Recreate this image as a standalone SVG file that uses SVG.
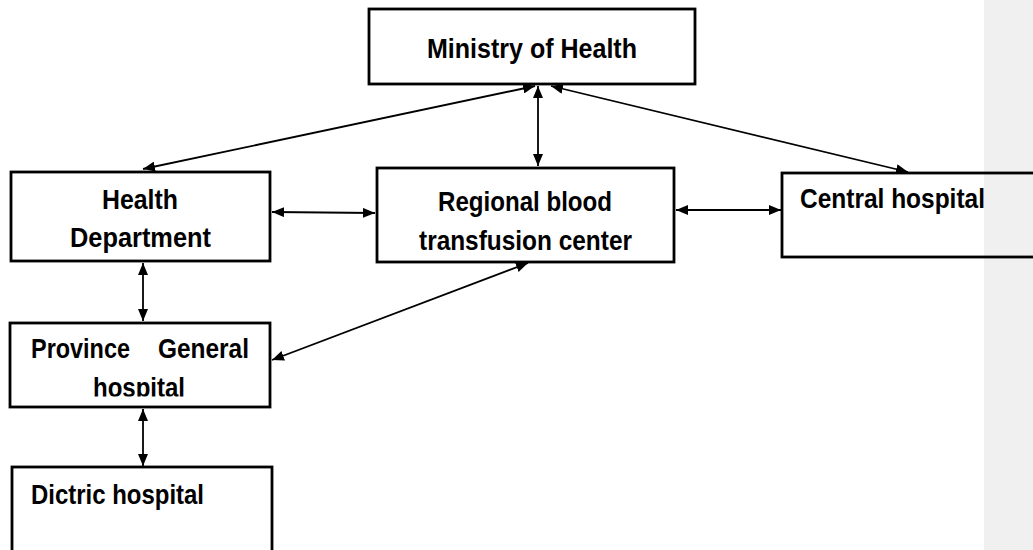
<svg xmlns="http://www.w3.org/2000/svg" width="1033" height="550" viewBox="0 0 1033 550">
<style>
.box{fill:none;stroke:#000;stroke-width:2.8}
.lbl{font-family:"Liberation Sans",Arial,sans-serif;font-weight:bold;font-size:28px;fill:#000}
.con{stroke:#000;stroke-width:1.8;fill:none;marker-start:url(#ah);marker-end:url(#ah)}
</style>
<defs>
<marker id="ah" viewBox="0 0 12 10" refX="12" refY="5" markerWidth="12" markerHeight="10" markerUnits="userSpaceOnUse" orient="auto-start-reverse">
<path d="M0,0 L12,5 L0,10 Z" fill="#000"/>
</marker>
<clipPath id="pclip"><rect x="0" y="300" width="300" height="96.5"/></clipPath>
</defs>
<rect x="0" y="0" width="1033" height="550" fill="#fff"/>
<rect x="984" y="0" width="49" height="550" fill="#f0f0f0"/>
<g id="ministry">
<rect class="box" x="369" y="9" width="326" height="75"/>
<text class="lbl" x="427" y="58" textLength="210" lengthAdjust="spacingAndGlyphs">Ministry of Health</text>
</g>
<g id="health-department">
<rect class="box" x="11" y="172" width="259" height="89"/>
<text class="lbl" x="102" y="209" textLength="76" lengthAdjust="spacingAndGlyphs">Health</text>
<text class="lbl" x="70" y="247" textLength="141" lengthAdjust="spacingAndGlyphs">Department</text>
</g>
<g id="regional">
<rect class="box" x="377" y="168" width="297" height="94"/>
<text class="lbl" x="438" y="211" textLength="174" lengthAdjust="spacingAndGlyphs">Regional blood</text>
<text class="lbl" x="419" y="250" textLength="213" lengthAdjust="spacingAndGlyphs">transfusion center</text>
</g>
<g id="central">
<rect class="box" x="782" y="173" width="300" height="84"/>
<text class="lbl" x="800" y="208" textLength="185" lengthAdjust="spacingAndGlyphs">Central hospital</text>
</g>
<g id="province">
<rect class="box" x="10" y="323" width="260" height="84"/>
<text class="lbl" x="31" y="358" textLength="99" lengthAdjust="spacingAndGlyphs">Province</text>
<text class="lbl" x="158" y="358" textLength="91" lengthAdjust="spacingAndGlyphs">General</text>
<text class="lbl" x="93" y="397" textLength="92" lengthAdjust="spacingAndGlyphs" clip-path="url(#pclip)">hospital</text>
</g>
<g id="district">
<rect class="box" x="12" y="467" width="260" height="100"/>
<text class="lbl" x="31" y="504" textLength="173" lengthAdjust="spacingAndGlyphs">Dictric hospital</text>
</g>
<g id="connectors">
<line class="con" x1="538" y1="86" x2="538" y2="166"/>
<line class="con" x1="535" y1="86" x2="143" y2="169"/>
<line class="con" x1="551" y1="86" x2="908" y2="172"/>
<line class="con" x1="272" y1="212" x2="375" y2="213"/>
<line class="con" x1="676" y1="210" x2="781" y2="210"/>
<line class="con" x1="143" y1="263" x2="143" y2="321"/>
<line class="con" x1="272" y1="360" x2="528" y2="263"/>
<line class="con" x1="143" y1="409" x2="143" y2="466"/>
</g>
</svg>
